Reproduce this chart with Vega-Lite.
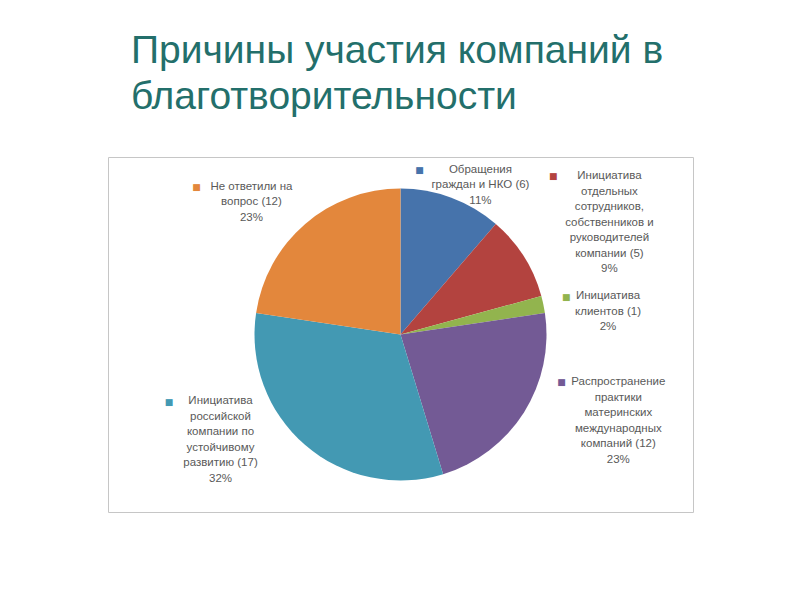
{
  "$schema": "https://vega.github.io/schema/vega-lite/v6.json",
  "width": 585,
  "height": 355,
  "autosize": {"type": "none"},
  "padding": {"left": 108, "top": 157, "right": 107, "bottom": 88},
  "background": "white",
  "view": {"stroke": "#c6c6c6", "strokeWidth": 1, "fill": "white"},
  "config": {
    "view": {"stroke": "#c6c6c6", "strokeWidth": 1},
    "font": "Liberation Sans"
  },
  "title": {
    "text": ["Причины участия компаний в", "благотворительности"],
    "font": "Liberation Sans",
    "fontSize": 39,
    "fontWeight": "normal",
    "color": "#236f6b",
    "anchor": "start",
    "frame": "group",
    "dx": 23,
    "offset": 40,
    "lineHeight": 46
  },
  "data": {
    "values": [
      {"order": 1, "cause": "Обращения граждан и НКО", "n": 6, "pct": 11, "label": "Обращения\nграждан и НКО (6)\n11%"},
      {"order": 2, "cause": "Инициатива отдельных сотрудников, собственников и руководителей компании", "n": 5, "pct": 9, "label": "Инициатива\nотдельных\nсотрудников,\nсобственников и\nруководителей\nкомпании (5)\n9%"},
      {"order": 3, "cause": "Инициатива клиентов", "n": 1, "pct": 2, "label": "Инициатива\nклиентов (1)\n2%"},
      {"order": 4, "cause": "Распространение практики материнских международных компаний", "n": 12, "pct": 23, "label": "Распространение\nпрактики\nматеринских\nмеждународных\nкомпаний (12)\n23%"},
      {"order": 5, "cause": "Инициатива российской компании по устойчивому развитию", "n": 17, "pct": 32, "label": "Инициатива\nроссийской\nкомпании по\nустойчивому\nразвитию (17)\n32%"},
      {"order": 6, "cause": "Не ответили на вопрос", "n": 12, "pct": 23, "label": "Не ответили на\nвопрос (12)\n23%"}
    ]
  },
  "resolve": {"scale": {"theta": "independent", "radius": "independent"}},
  "layer": [
    {
      "mark": {"type": "arc", "outerRadius": 146},
      "encoding": {
        "theta": {"field": "n", "type": "quantitative", "stack": true},
        "order": {"field": "order", "type": "quantitative"},
        "color": {
          "field": "order",
          "type": "nominal",
          "scale": {"domain": [1, 2, 3, 4, 5, 6], "range": ["#4673ab", "#b3433f", "#92b44e", "#735a95", "#4399b3", "#e3873c"]},
          "legend": null
        }
      }
    },
    {
      "mark": {"type": "text", "font": "Liberation Sans", "fontSize": 11.5, "color": "#595959", "align": "center", "baseline": "middle", "lineBreak": "\n", "lineHeight": 15.5},
      "encoding": {
        "theta": {"field": "order", "type": "quantitative", "stack": null,
          "scale": {"domain": [1, 2, 3, 4, 5, 6], "range": [0.452, 0.923, 1.389, 1.787, 4.357, 5.494], "zero": false, "nice": false}},
        "radius": {"field": "order", "type": "quantitative",
          "scale": {"type": "linear", "domain": [1, 2, 3, 4, 5, 6], "range": [183, 262, 211, 223, 192, 210], "zero": false, "nice": false}},
        "text": {"field": "label", "type": "nominal"}
      }
    },
    {
      "mark": {"type": "text", "font": "DejaVu Sans", "fontSize": 9, "align": "center", "baseline": "middle"},
      "encoding": {
        "theta": {"field": "order", "type": "quantitative", "stack": null,
          "scale": {"domain": [1, 2, 3, 4, 5, 6], "range": [0.115, 0.768, 1.346, 1.86, 4.43, 5.339], "zero": false, "nice": false}},
        "radius": {"field": "order", "type": "quantitative",
          "scale": {"type": "linear", "domain": [1, 2, 3, 4, 5, 6], "range": [166, 220, 170, 168, 241, 252], "zero": false, "nice": false}},
        "text": {"value": "■"},
        "color": {
          "field": "order",
          "type": "nominal",
          "scale": {"domain": [1, 2, 3, 4, 5, 6], "range": ["#4673ab", "#b3433f", "#92b44e", "#735a95", "#4399b3", "#e3873c"]},
          "legend": null
        }
      }
    }
  ]
}
